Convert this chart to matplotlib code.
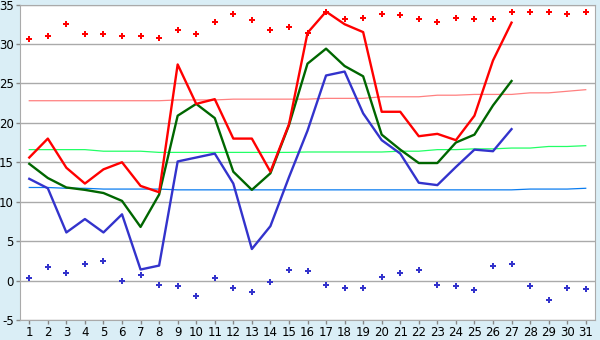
import matplotlib
matplotlib.use("Agg")
import matplotlib.pyplot as plt

plt.rcParams['axes.unicode_minus'] = False

days = list(range(1, 32))

# daily max / mean / min (first 27 days)
t_max = [15.6, 18.0, 14.3, 12.3, 14.1, 15.0, 12.0, 11.2, 27.4, 22.4, 23.0, 18.0, 18.0, 13.8,
         19.8, 31.4, 34.1, 32.5, 31.5, 21.4, 21.4, 18.3, 18.6, 17.8, 20.9, 27.9, 32.7]
t_mean = [14.8, 13.0, 11.8, 11.5, 11.1, 10.1, 6.8, 10.9, 20.9, 22.4, 20.6, 13.8, 11.5, 13.6,
          19.7, 27.5, 29.4, 27.2, 25.9, 18.5, 16.6, 14.9, 14.9, 17.5, 18.5, 22.2, 25.3]
t_min = [12.9, 11.7, 6.1, 7.8, 6.1, 8.4, 1.4, 1.9, 15.1, 15.6, 16.1, 12.3, 4.0, 6.9,
         13.1, 19.0, 26.0, 26.5, 21.2, 17.8, 16.1, 12.4, 12.1, 14.4, 16.6, 16.4, 19.2]

# records
rec_max = [30.6, 31.0, 32.5, 31.3, 31.3, 31.0, 31.0, 30.8, 31.8, 31.3, 32.8, 33.8, 33.0, 31.8,
           32.2, 31.4, 34.1, 33.2, 33.3, 33.8, 33.7, 33.1, 32.8, 33.3, 33.2, 33.2, 34.1, 34.1,
           34.1, 33.8, 34.1]
rec_min = [0.3, 1.7, 1.0, 2.1, 2.5, 0.0, 0.7, -0.5, -0.7, -2.0, 0.3, -1.0, -1.4, -0.2,
           1.3, 1.2, -0.5, -1.0, -1.0, 0.5, 1.0, 1.4, -0.5, -0.7, -1.2, 1.8, 2.1, -0.7,
           -2.5, -1.0, -1.1]

# normals
norm_max = [22.8] * 8 + [22.9] * 3 + [23.0] * 5 + [23.1] * 3 + [23.3] * 3 + [23.5] * 2 + \
           [23.6] * 3 + [23.8] * 2 + [24.0, 24.2]
norm_mean = [16.6] * 4 + [16.4] * 3 + [16.25] * 8 + [16.3] * 5 + [16.4] * 2 + [16.6] * 2 + \
            [16.7] * 2 + [16.8] * 2 + [17.0] * 2 + [17.1]
norm_min = [11.8] * 2 + [11.7] * 2 + [11.6] * 4 + [11.5] * 19 + [11.6] * 3 + [11.7]

fig = plt.figure(figsize=(6, 3.4), dpi=100, facecolor="#daeef6")
ax = fig.add_axes([20 / 600, 20 / 340, 575 / 600, 315.5 / 340])
ax.set_facecolor("white")

n = len(t_max)
ax.plot(days, norm_max, color="#ff8080", lw=0.9, zorder=2)
ax.plot(days, norm_mean, color="#22ff66", lw=0.9, zorder=2)
ax.plot(days, norm_min, color="#0a7cf0", lw=0.9, zorder=2)

ax.plot(days[:n], t_min, color="#3333cc", lw=1.7, zorder=3)
ax.plot(days[:n], t_mean, color="#006600", lw=1.7, zorder=4)
ax.plot(days[:n], t_max, color="#ff0000", lw=1.7, zorder=5)

ax.plot(days, rec_max, ls="none", marker="P", ms=4.3, color="#ff0000", mew=0, zorder=6)
ax.plot(days, rec_min, ls="none", marker="P", ms=4.3, color="#3333cc", mew=0, zorder=6)

ax.set_xlim(0.5, 31.5)
ax.set_ylim(-5, 35)
ax.set_xticks(days)
ax.set_yticks(range(-5, 36, 5))
ax.yaxis.grid(True, color="#aaaaaa", lw=1)
ax.set_axisbelow(True)
for s in ax.spines.values():
    s.set_color("#aaaaaa")
ax.tick_params(axis="both", colors="#888888", labelcolor="black", labelsize=8.5,
               length=3, width=1, pad=1.5)

fig.savefig("out.png", dpi=100, facecolor=fig.get_facecolor())
